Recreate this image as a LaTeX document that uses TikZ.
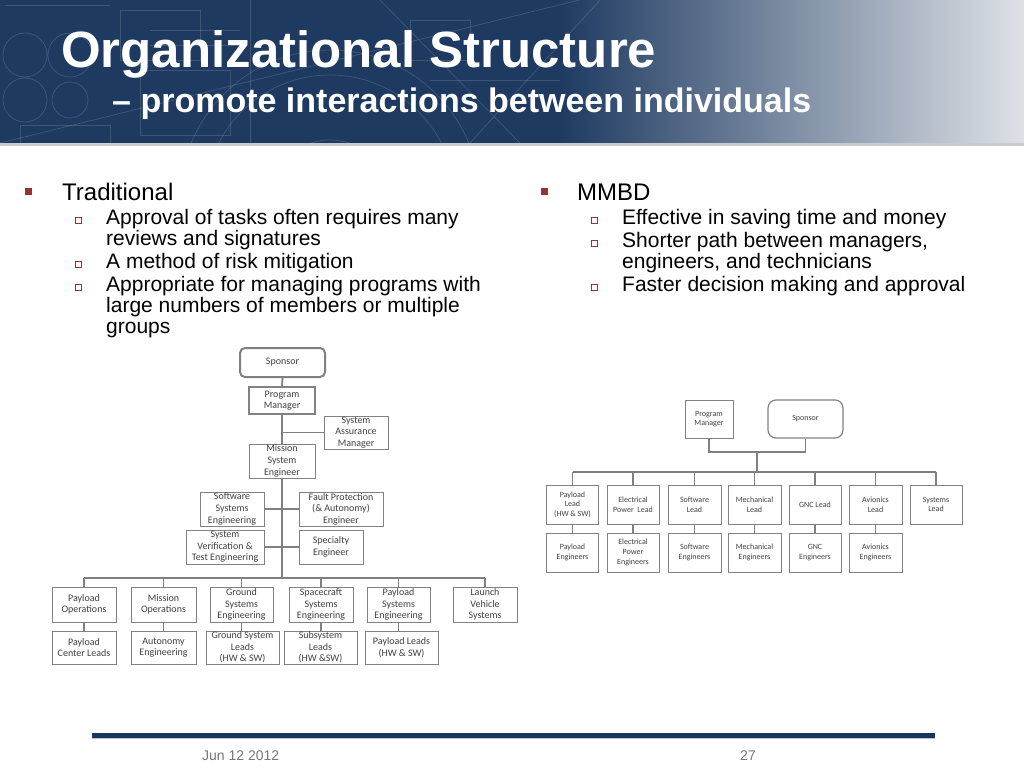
\documentclass[tikz,border=0pt]{standalone}
\usepackage{fontspec}
\setmainfont{Liberation Sans}
\newfontfamily\calfont{Carlito}
\usetikzlibrary{calc}
\definecolor{navy}{RGB}{30,58,97}
\definecolor{navylight}{RGB}{222,226,231}
\definecolor{footnavy}{RGB}{22,54,96}
\definecolor{bulletred}{RGB}{148,52,50}
\definecolor{boxtext}{RGB}{64,64,64}
\definecolor{boxgray}{RGB}{130,130,130}
\definecolor{linegray}{RGB}{128,128,128}
\definecolor{footgray}{RGB}{120,120,120}
\tikzset{
  boxL/.style={draw=boxgray, line width=1pt, fill=white, align=center, inner sep=0pt,
    text=boxtext, font=\calfont\fontsize{10}{11.6}\selectfont},
  boxR/.style={boxL, font=\calfont\fontsize{8}{9.6}\selectfont},
  connL/.style={draw=linegray, line width=1.8pt},
  connR/.style={draw=linegray, line width=1.2pt},
  bigtxt/.style={anchor=base west, inner sep=0pt, font=\fontsize{24}{24}\selectfont},
  subtxt/.style={anchor=base west, inner sep=0pt, font=\fontsize{21}{21}\selectfont},
  mainbul/.style={fill=bulletred, draw=none},
  subbul/.style={draw=bulletred, line width=0.8pt, fill=white},
  ttl/.style={anchor=base west, inner sep=0pt, text=white, font=\bfseries\fontsize{51}{51}\selectfont},
  sttl/.style={anchor=base west, inner sep=0pt, text=white, font=\bfseries\fontsize{34}{34}\selectfont}
}
\begin{document}
\begin{tikzpicture}[x=1pt,y=-1pt]
\useasboundingbox (0,0) rectangle (1024,768);
\fill[white] (0,0) rectangle (1024,768);
% ---------- header banner ----------
\fill[navy] (0,0) rectangle (560,143);
\shade[left color=navy, right color=navylight] (559.5,0) rectangle (1024,143);
\fill[black!10!navylight] (0,143) rectangle (1024,146);
\begin{scope}
  \clip (0,0) rectangle (700,143);
  \begin{scope}[draw=white, opacity=0.14, line width=0.8pt]
    \draw (25,55) circle (22) (70,55) circle (22) (25,100) circle (22) (70,100) circle (18);
    \draw (330,200) circle (150) (330,200) circle (125) (330,200) circle (60);
    \draw (120,10) rectangle (200,60) (140,70) rectangle (230,135) (20,125) rectangle (110,143);
    \draw (0,143) -- (620,-10) (380,0) -- (520,143) (600,0) -- (470,143);
    \draw (250,0) -- (250,143) (410,20) rectangle (470,60) (430,80) -- (560,80);
    \draw (150,30) -- (240,30) (150,45) -- (240,45) (5,5) -- (110,5);
  \end{scope}
\end{scope}
\node[ttl] (title) at (61,67) {Organizational Structure};
\node[sttl] (subtitle) at (112,112) {– promote interactions between individuals};
% ---------- bullets left ----------
\fill[mainbul] (25,188) rectangle (32,195);
\node[bigtxt] (tradT) at (62,200) {Traditional};
\draw[subbul] (75,217) rectangle (81,223);
\node[subtxt] (l1a) at (106,224) {Approval of tasks often requires many};
\node[subtxt] (l1b) at (106,245) {reviews and signatures};
\draw[subbul] (75,261) rectangle (81,267);
\node[subtxt] (l2) at (106,268) {A method of risk mitigation};
\draw[subbul] (75,284) rectangle (81,290);
\node[subtxt] (l3a) at (106,291) {Appropriate for managing programs with};
\node[subtxt] (l3b) at (106,312) {large numbers of members or multiple};
\node[subtxt] (l3c) at (106,333) {groups};
% ---------- bullets right ----------
\fill[mainbul] (541,188) rectangle (548,195);
\node[bigtxt] (mmbdT) at (577,200) {MMBD};
\draw[subbul] (591,217) rectangle (597,223);
\node[subtxt] (r1) at (622,224) {Effective in saving time and money};
\draw[subbul] (591,240) rectangle (597,246);
\node[subtxt] (r2a) at (622,247) {Shorter path between managers,};
\node[subtxt] (r2b) at (622,268) {engineers, and technicians};
\draw[subbul] (591,284) rectangle (597,290);
\node[subtxt] (r3) at (622,291) {Faster decision making and approval};
% ---------- left chart ----------
\node[boxL, draw=gray, line width=2pt, rounded corners=5pt, minimum width=85, minimum height=29] (spL) at (282.5,362.5) {Sponsor};
\node[boxL, line width=2pt, minimum width=66, minimum height=27] (pmL) at (282,400.5) {Program\\Manager};
\node[boxL, minimum width=64, minimum height=33] (samL) at (356,432.5) {System\\Assurance\\Manager};
\node[boxL, minimum width=66, minimum height=34] (mseL) at (282,461) {Mission\\System\\Engineer};
\node[boxL, minimum width=64, minimum height=34] (sseL) at (232,509) {Software\\Systems\\Engineering};
\node[boxL, minimum width=84, minimum height=34] (fpL) at (341,509) {Fault Protection\\(\& Autonomy)\\Engineer};
\node[boxL, minimum width=78, minimum height=34] (svL) at (225,547) {System\\Verification \&\\Test Engineering};
\node[boxL, minimum width=64, minimum height=34] (speL) at (331,547) {Specialty\\Engineer};
\coordinate (busL) at (282,578);
\node[boxL, minimum width=64, minimum height=35] (poL) at (84,604.5) {Payload\\Operations};
\node[boxL, minimum width=65, minimum height=35] (moL) at (163.5,604.5) {Mission\\Operations};
\node[boxL, minimum width=63, minimum height=35] (gseL) at (241.5,604.5) {Ground\\Systems\\Engineering};
\node[boxL, minimum width=64, minimum height=35] (sceL) at (321,604.5) {Spacecraft\\Systems\\Engineering};
\node[boxL, minimum width=63, minimum height=35] (pseL) at (398.5,604.5) {Payload\\Systems\\Engineering};
\node[boxL, minimum width=64, minimum height=35] (lvsL) at (485,604.5) {Launch\\Vehicle\\Systems};
\node[boxL, minimum width=64, minimum height=33] (pclL) at (84,647.5) {Payload\\Center Leads};
\node[boxL, minimum width=65, minimum height=33] (aeL) at (163.5,647.5) {Autonomy\\Engineering};
\node[boxL, minimum width=73, minimum height=33] (gslL) at (242.5,647.5) {Ground System\\Leads\\(HW \& SW)};
\node[boxL, minimum width=73, minimum height=33] (sslL) at (320.5,647.5) {Subsystem\\Leads\\(HW \&SW)};
\node[boxL, minimum width=73, minimum height=33] (plL) at (401.5,647.5) {Payload Leads\\(HW \& SW)};
\draw[connL] (spL.south) -- (pmL.north);
\draw[connL] (pmL.south) -- (mseL.north);
\draw[connL] (pmL.south |- samL.west) -- (samL.west);
\draw[connL] (mseL.south) -- (busL);
\draw[connL] (sseL.east) -- (fpL.west);
\draw[connL] (svL.east) -- (speL.west);
\draw[connL] (poL.north |- busL) -- (lvsL.north |- busL);
\foreach \n in {poL,moL,gseL,sceL,pseL,lvsL} { \draw[connL] (\n.north) -- (\n.north |- busL); }
\draw[connL] (poL.south) -- (pclL.north);
\draw[connL] (moL.south) -- (aeL.north);
\draw[connL] (gseL.south) -- (gseL.south |- gslL.north);
\draw[connL] (sceL.south) -- (sceL.south |- sslL.north);
\draw[connL] (pseL.south) -- (pseL.south |- plL.north);
% ---------- right chart ----------
\node[boxR, minimum width=48, minimum height=38] (pmR) at (709,419) {Program\\Manager};
\node[boxR, rounded corners=8pt, line width=1.2pt, minimum width=75, minimum height=38] (spR) at (805.5,419) {Sponsor};
\coordinate (jR) at (757,452);
\coordinate (busR) at (757,472);
\node[boxR, minimum width=52, minimum height=39] (plR) at (572.5,504.5) {Payload\\Lead\\(HW \& SW)};
\node[boxR, minimum width=52, minimum height=39] (epR) at (633,504.5) {Electrical\\Power~ Lead};
\node[boxR, minimum width=53, minimum height=39] (swR) at (694.5,504.5) {Software\\Lead};
\node[boxR, minimum width=53, minimum height=39] (meR) at (754.5,504.5) {Mechanical\\Lead};
\node[boxR, minimum width=52, minimum height=39] (gnR) at (815,504.5) {GNC Lead};
\node[boxR, minimum width=53, minimum height=39] (avR) at (875.5,504.5) {Avionics\\Lead};
\node[boxR, minimum width=52, minimum height=39] (slR) at (936,504.5) {Systems\\Lead};
\node[boxR, minimum width=52, minimum height=39] (peR) at (572.5,552.5) {Payload\\Engineers};
\node[boxR, minimum width=52, minimum height=39] (eeR) at (633,552.5) {Electrical\\Power\\Engineers};
\node[boxR, minimum width=53, minimum height=39] (seR) at (694.5,552.5) {Software\\Engineers};
\node[boxR, minimum width=53, minimum height=39] (mnR) at (754.5,552.5) {Mechanical\\Engineers};
\node[boxR, minimum width=52, minimum height=39] (geR) at (815,552.5) {GNC\\Engineers};
\node[boxR, minimum width=53, minimum height=39] (aeR) at (875.5,552.5) {Avionics\\Engineers};
\draw[connR] (pmR.south) -- (pmR.south |- jR) -- (spR.south |- jR) -- (spR.south);
\draw[connR] (jR) -- (busR);
\draw[connR] (plR.north |- busR) -- (slR.north |- busR);
\foreach \n in {plR,epR,swR,meR,gnR,avR,slR} { \draw[connR] (\n.north) -- (\n.north |- busR); }
\draw[connR] (plR.south) -- (peR.north);
\draw[connR] (epR.south) -- (eeR.north);
\draw[connR] (swR.south) -- (seR.north);
\draw[connR] (meR.south) -- (mnR.north);
\draw[connR] (gnR.south) -- (geR.north);
\draw[connR] (avR.south) -- (aeR.north);
% ---------- footer ----------
\fill[footnavy] (92,733) rectangle (935,737.5);
\draw[white!70!footnavy, line width=0.6pt] (92,738) -- (935,738);
\node[anchor=base west, inner sep=0pt, text=footgray, font=\fontsize{14}{14}\selectfont] (date) at (202,760) {Jun 12 2012};
\node[anchor=base, inner sep=0pt, text=footgray, font=\fontsize{14}{14}\selectfont] (page) at (748,760) {27};
\end{tikzpicture}
\end{document}
